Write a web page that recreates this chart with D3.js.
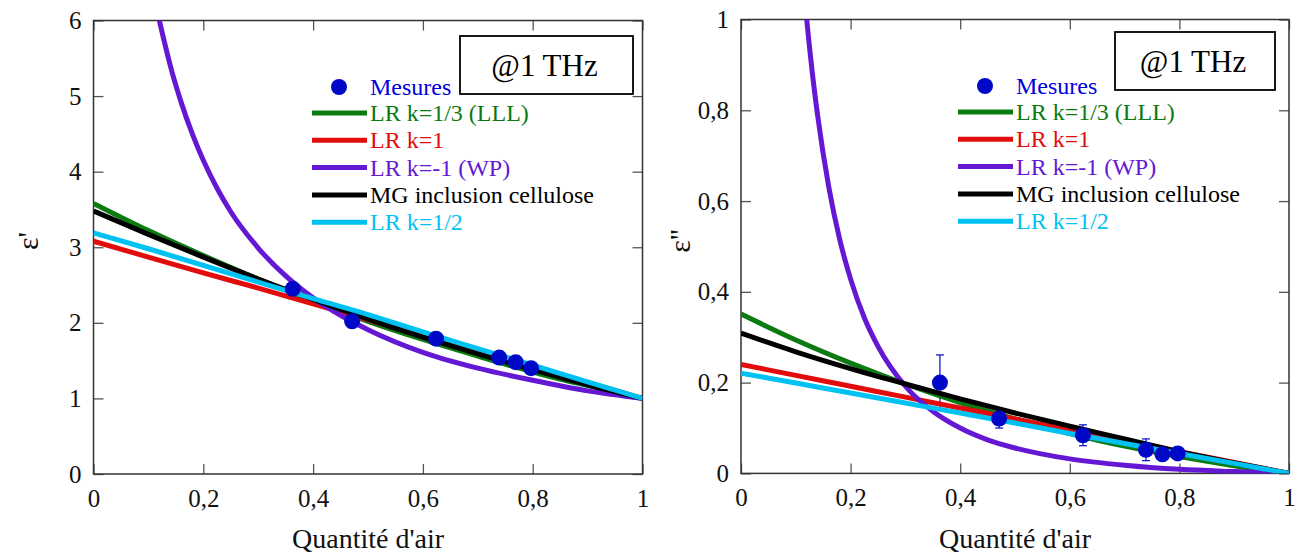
<!DOCTYPE html>
<html>
<head>
<meta charset="utf-8">
<script src="https://cdn.jsdelivr.net/npm/d3@7"></script>
<style>
  body { margin: 0; background: #fff; }
</style>
</head>
<body>
<script>
// Données
const xMesures = [0.363, 0.471, 0.624, 0.739, 0.769, 0.797];
const epsReelMesures = [2.45, 2.02, 1.79, 1.54, 1.48, 1.40];
const epsImagMesures = [0.200, 0.121, 0.084, 0.052, 0.042, 0.044];
const epsImagErreur = [0.061, 0.021, 0.023, 0.024, 0.010, 0.010];

const xGrille = [0, 0.1, 0.2, 0.3, 0.4, 0.5, 0.6, 0.7, 0.8, 0.9, 1];
const xGrilleWP = [0.11, 0.12, 0.13, 0.14, 0.16, 0.18, 0.2, 0.225, 0.25, 0.3, 0.35, 0.4, 0.45, 0.5, 0.6, 0.7, 0.8, 0.9, 1];

// epsilon'
const reelLLL = [3.58, 3.22, 2.89, 2.58, 2.29, 2.02, 1.78, 1.56, 1.35, 1.17, 1.0];
const reelK1 = [3.08, 2.87, 2.66, 2.46, 2.25, 2.04, 1.83, 1.62, 1.42, 1.21, 1.0];
const reelWP = [6.35, 6.00, 5.69, 5.40, 4.91, 4.50, 4.15, 3.78, 3.47, 2.99, 2.62, 2.33, 2.10, 1.91, 1.61, 1.40, 1.24, 1.10, 1.0];
const reelMG = [3.48, 3.17, 2.87, 2.58, 2.31, 2.05, 1.81, 1.59, 1.38, 1.18, 1.0];
const reelK12 = [3.19, 2.98, 2.76, 2.54, 2.32, 2.11, 1.88, 1.66, 1.44, 1.22, 1.0];

// epsilon''
const imagLLL = [0.351, 0.294, 0.243, 0.197, 0.156, 0.120, 0.088, 0.060, 0.037, 0.017, 0];
const imagK1 = [0.240, 0.216, 0.192, 0.168, 0.144, 0.120, 0.096, 0.072, 0.048, 0.024, 0];
const imagWP = [1.135, 0.999, 0.884, 0.787, 0.632, 0.516, 0.428, 0.343, 0.280, 0.192, 0.137, 0.100, 0.074, 0.056, 0.032, 0.018, 0.009, 0.004, 0];
const imagMG = [0.309, 0.268, 0.231, 0.197, 0.164, 0.133, 0.104, 0.076, 0.048, 0.023, 0];
const imagK12 = [0.221, 0.199, 0.177, 0.155, 0.133, 0.111, 0.088, 0.066, 0.044, 0.022, 0];

const nomsSeries = ["LR k=1/3 (LLL)", "LR k=1", "LR k=-1 (WP)", "MG inclusion cellulose", "LR k=1/2"];
const couleurs = ["#0b7a10", "#e20c0c", "#6518d4", "#000000", "#00c2f2"];
const couleurMesures = "#0008c8";

const xTicks = [0, 0.2, 0.4, 0.6, 0.8, 1];
const yTicksReel = [0, 1, 2, 3, 4, 5, 6];
const yTicksImag = [0, 0.2, 0.4, 0.6, 0.8, 1];

const police = "Liberation Serif, Times New Roman, DejaVu Serif, serif";
const virgule = d => String(d).replace(".", ",");

const svg = d3.select("body").append("svg")
    .attr("width", 1298)
    .attr("height", 556)
    .attr("font-family", police);

function texte(parent) {
    return parent.append("text").attr("font-family", police);
}

function panneau(cfg) {
    const x = d3.scaleLinear().domain([0, 1]).range(cfg.xr);
    const y = d3.scaleLinear().domain(cfg.yd).range(cfg.yr);
    const g = svg.append("g");

    g.append("clipPath").attr("id", cfg.id)
        .append("rect")
        .attr("x", cfg.xr[0]).attr("y", cfg.yr[1])
        .attr("width", cfg.xr[1] - cfg.xr[0]).attr("height", cfg.yr[0] - cfg.yr[1]);

    // axes, graduations vers l'intérieur
    const bas = g.append("g").attr("transform", "translate(0," + cfg.yr[0] + ")")
        .call(d3.axisBottom(x).tickValues(xTicks).tickFormat(virgule).tickSizeInner(-10).tickSizeOuter(0).tickPadding(15));
    const haut = g.append("g").attr("transform", "translate(0," + cfg.yr[1] + ")")
        .call(d3.axisTop(x).tickValues(xTicks).tickFormat("").tickSizeInner(-10).tickSizeOuter(0));
    const gauche = g.append("g").attr("transform", "translate(" + cfg.xr[0] + ",0)")
        .call(d3.axisLeft(y).tickValues(cfg.yTicks).tickFormat(virgule).tickSizeInner(-10).tickSizeOuter(0).tickPadding(12));
    const droite = g.append("g").attr("transform", "translate(" + cfg.xr[1] + ",0)")
        .call(d3.axisRight(y).tickValues(cfg.yTicks).tickFormat("").tickSizeInner(-10).tickSizeOuter(0));
    [bas, haut, gauche, droite].forEach(a => {
        a.attr("font-family", police).attr("font-size", 25);
        a.select(".domain").remove();
        a.selectAll(".tick line").attr("stroke", "#555").attr("stroke-width", 1.3);
        a.selectAll("text").attr("fill", "#111");
    });

    g.append("rect")
        .attr("x", cfg.xr[0]).attr("y", cfg.yr[1])
        .attr("width", cfg.xr[1] - cfg.xr[0]).attr("height", cfg.yr[0] - cfg.yr[1])
        .attr("fill", "none").attr("stroke", "#333").attr("stroke-width", 1.5);

    // barres d'erreur (sous les courbes)
    if (cfg.err) {
        const eb = g.append("g").attr("stroke", couleurMesures).attr("stroke-width", 1.2);
        xMesures.forEach((xm, i) => {
            const v = cfg.mes[i], e = cfg.err[i];
            eb.append("line").attr("x1", x(xm)).attr("x2", x(xm)).attr("y1", y(v - e)).attr("y2", y(v + e));
            eb.append("line").attr("x1", x(xm) - 4).attr("x2", x(xm) + 4).attr("y1", y(v - e)).attr("y2", y(v - e));
            eb.append("line").attr("x1", x(xm) - 4).attr("x2", x(xm) + 4).attr("y1", y(v + e)).attr("y2", y(v + e));
        });
    }

    const ligne = d3.line()
        .x(d => x(d[0]))
        .y(d => y(d[1]))
        .curve(d3.curveMonotoneX);

    const courbes = g.append("g").attr("clip-path", "url(#" + cfg.id + ")");
    cfg.series.forEach((s, i) => {
        const xs = i === 2 ? xGrilleWP : xGrille;
        courbes.append("path")
            .datum(xs.map((xv, j) => [xv, s[j]]))
            .attr("d", ligne)
            .attr("fill", "none")
            .attr("stroke", couleurs[i])
            .attr("stroke-width", 5);
    });

    g.append("g").selectAll("circle")
        .data(xMesures)
        .join("circle")
        .attr("cx", d => x(d))
        .attr("cy", (d, i) => y(cfg.mes[i]))
        .attr("r", 8)
        .attr("fill", couleurMesures);

    // titres d'axes
    texte(g)
        .attr("x", (cfg.xr[0] + cfg.xr[1]) / 2).attr("y", 548)
        .attr("text-anchor", "middle").attr("font-size", 28).attr("fill", "#111")
        .text("Quantité d'air");
    texte(g)
        .attr("transform", "translate(" + cfg.ylabX + ",241) rotate(-90)")
        .attr("text-anchor", "middle").attr("font-size", 30).attr("fill", "#111")
        .text(cfg.ylab);

    // encadré de fréquence
    g.append("rect")
        .attr("x", cfg.boite[0]).attr("y", cfg.boite[1])
        .attr("width", cfg.boite[2]).attr("height", cfg.boite[3])
        .attr("fill", "#fff").attr("stroke", "#000").attr("stroke-width", 1.8);
    texte(g)
        .attr("x", cfg.boite[0] + cfg.boite[2] / 2 - 2).attr("y", cfg.boite[1] + 40)
        .attr("text-anchor", "middle").attr("font-size", 31).attr("fill", "#000")
        .text("@1 THz");

    // légende
    const lg = g.append("g").attr("transform", "translate(" + cfg.leg[0] + "," + cfg.leg[1] + ")");
    lg.append("circle").attr("cx", 27).attr("cy", 0).attr("r", 8).attr("fill", couleurMesures);
    texte(lg).attr("x", 58).attr("y", 8).attr("font-size", 24)
        .attr("fill", "#0000dd").text("Mesures");
    nomsSeries.forEach((n, i) => {
        const yy = 26 + i * 27.3;
        lg.append("line").attr("x1", 0).attr("x2", 55).attr("y1", yy).attr("y2", yy)
            .attr("stroke", couleurs[i]).attr("stroke-width", 5);
        texte(lg).attr("x", 58).attr("y", yy + 8).attr("font-size", 24)
            .attr("fill", couleurs[i]).text(n);
    });
}

panneau({
    id: "clipReel",
    xr: [93.5, 642.5], yr: [474, 20.5], yd: [0, 6], yTicks: yTicksReel,
    series: [reelLLL, reelK1, reelWP, reelMG, reelK12],
    mes: epsReelMesures, err: null,
    ylab: "ε'", ylabX: 38,
    boite: [460, 36, 173, 58],
    leg: [312, 87]
});

panneau({
    id: "clipImag",
    xr: [741, 1289], yr: [473.4, 19.5], yd: [0, 1], yTicks: yTicksImag,
    series: [imagLLL, imagK1, imagWP, imagMG, imagK12],
    mes: epsImagMesures, err: epsImagErreur,
    ylab: "ε''", ylabX: 690,
    boite: [1115, 32, 160, 58],
    leg: [958, 86]
});
</script>
</body>
</html>
